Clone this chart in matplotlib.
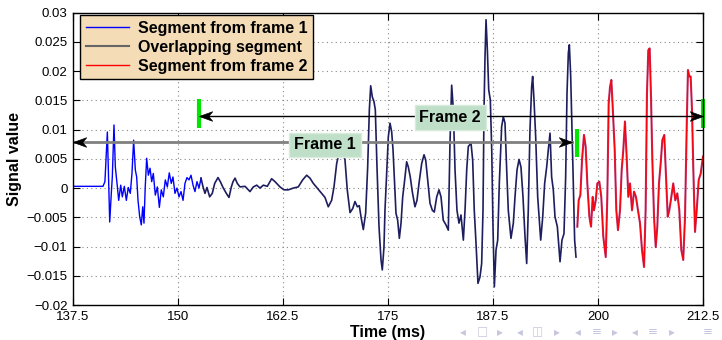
import matplotlib
matplotlib.use("Agg")
import matplotlib.pyplot as plt
import numpy as np
from matplotlib.path import Path
from matplotlib.lines import Line2D

plt.rcParams['font.family'] = ['Liberation Sans', 'DejaVu Sans']

# ---- data ----
time_ms = [137.5, 141.07, 141.3, 141.59, 141.7, 141.87, 142.06, 142.18, 142.38, 142.54,
           142.74, 142.94, 143.18, 143.37, 143.61, 143.85, 144.08, 144.32, 144.52, 144.72,
           144.92, 145.08, 145.24, 145.44, 145.63, 145.8, 145.95, 146.1, 146.27, 146.47,
           146.67, 146.87, 147.06, 147.3, 147.54, 147.78, 148.01, 148.25, 148.49, 148.73,
           148.96, 149.2, 149.4, 149.64, 149.88, 150.12, 150.36, 150.6, 150.83, 151.07,
           151.31, 151.55, 151.79, 152.02, 152.26, 152.5, 152.74,
           152.98, 153.21, 153.45, 153.77, 154.08, 154.37, 154.76, 155.04, 155.36, 155.75,
           156.07, 156.35, 156.55, 156.79, 157.06, 157.38, 157.98, 158.57, 158.97, 159.37,
           159.76, 160.16, 160.63, 161.15, 161.55, 162.14, 162.62, 163.13, 163.73, 164.32,
           164.84, 165.32, 165.71, 166.11, 166.58, 167.1, 167.5, 167.89, 168.29, 168.57,
           168.89, 169.2, 169.52, 169.88, 170.15, 170.48, 170.8, 171.07, 171.35, 171.58,
           171.82, 172.06, 172.34, 172.58, 172.78, 172.94, 173.13, 173.33, 173.49, 173.69,
           173.93, 174.17, 174.32, 174.52, 174.64, 174.84, 175.04, 175.24, 175.44, 175.6,
           175.75, 175.95, 176.15, 176.35, 176.55, 176.75, 176.94, 177.22, 177.42, 177.65,
           177.89, 178.21, 178.45, 178.69, 179.01, 179.29, 179.49, 179.73, 180.0, 180.28,
           180.51, 180.8, 181.07, 181.31, 181.58, 181.9, 182.18, 182.38, 182.58, 182.78,
           182.98, 183.21, 183.45, 183.69, 183.97, 184.17, 184.37, 184.56, 184.88, 185.08,
           185.27, 185.48, 185.71, 185.95, 186.15, 186.31, 186.43, 186.55, 186.67, 186.83,
           186.99, 187.18, 187.35, 187.5, 187.66, 187.86, 188.06, 188.25, 188.53, 188.73,
           188.93, 189.13, 189.32, 189.64, 189.92, 190.12, 190.36, 190.6, 190.83, 191.07,
           191.31, 191.51, 191.7, 191.9, 192.1, 192.22, 192.38, 192.58, 192.82, 192.98,
           193.18, 193.42, 193.65, 193.89, 194.08, 194.29, 194.48, 194.68, 194.88, 195.16,
           195.48, 195.71, 195.95, 196.15, 196.31, 196.47, 196.59, 196.75, 196.9, 197.06,
           197.22, 197.38,
           197.54, 197.7, 197.9, 198.1, 198.33, 198.53, 198.73, 198.97, 199.17, 199.37,
           199.52, 199.73, 199.92, 200.16, 200.39, 200.63, 200.92, 201.11, 201.27, 201.43,
           201.59, 201.75, 201.99, 202.18, 202.38, 202.62, 202.82, 203.01, 203.21, 203.41,
           203.61, 203.81, 204.05, 204.29, 204.52, 204.76, 205.0, 205.24, 205.48, 205.67,
           205.83, 205.99, 206.15, 206.31, 206.47, 206.67, 206.87, 207.06, 207.26, 207.46,
           207.66, 207.89, 208.1, 208.3, 208.49, 208.73, 208.96, 209.2, 209.44, 209.68,
           209.92, 210.15, 210.36, 210.56, 210.71, 210.87, 211.03, 211.19, 211.35, 211.55,
           211.75, 211.99, 212.23, 212.5]

signal = [0.0003, 0.0003, 0.0011, 0.0096, 0.0036, -0.0058, -0.0009, 0.0019, 0.0108, 0.0036,
          0.0008, -0.0021, 0.0005, -0.0015, 0.0003, -0.0021, 0.0001, -0.0009, 0.0025, 0.0082,
          0.0031, 0.0019, -0.0021, -0.0049, -0.0063, -0.0032, -0.0060, 0.0002, 0.0051, 0.0022,
          0.0034, 0.0011, 0.0025, -0.0012, 0.0002, -0.0033, -0.0003, -0.0015, 0.0014, 0.0002,
          0.0026, 0.0008, 0.0019, -0.0009, 0.0000, -0.0015, -0.0006, -0.0021, 0.0008, 0.0018,
          0.0014, 0.0022, 0.0005, -0.0006, 0.0011, 0.0000, 0.0017,
          0.0002, -0.0009, 0.0001, -0.0015, -0.0009, 0.0008, 0.0018, 0.0011, 0.0001, -0.0009,
          -0.0016, 0.0002, 0.0011, 0.0017, 0.0008, 0.0002, 0.0003, -0.0006, 0.0002, 0.0005,
          0.0000, 0.0005, 0.0003, 0.0016, 0.0011, 0.0002, -0.0003, -0.0003, 0.0000, 0.0002,
          0.0014, 0.0022, 0.0017, 0.0008, 0.0000, -0.0009, -0.0016, -0.0032, -0.0021, 0.0002,
          0.0042, 0.0062, 0.0066, 0.0048, -0.0003, -0.0042, -0.0035, -0.0023, -0.0032, -0.0030,
          -0.0052, -0.0071, -0.0043, 0.0036, 0.0134, 0.0175, 0.0156, 0.0148, 0.0134, 0.0036,
          -0.0066, -0.0123, -0.0140, -0.0101, -0.0038, 0.0025, 0.0088, 0.0111, 0.0096, 0.0065,
          0.0019, -0.0043, -0.0055, -0.0086, -0.0060, -0.0015, 0.0008, 0.0045, 0.0036, 0.0019,
          -0.0006, -0.0032, -0.0021, 0.0008, 0.0042, 0.0057, 0.0048, 0.0014, -0.0026, -0.0038,
          -0.0041, -0.0015, -0.0003, -0.0015, -0.0055, -0.0063, -0.0072, 0.0077, 0.0176, 0.0134,
          0.0031, -0.0038, -0.0060, -0.0046, -0.0089, -0.0038, 0.0031, 0.0071, 0.0077, 0.0048,
          -0.0038, -0.0095, -0.0163, -0.0152, -0.0129, -0.0038, 0.0134, 0.0225, 0.0288, 0.0236,
          0.0168, 0.0151, 0.0065, -0.0066, -0.0169, -0.0106, -0.0089, 0.0008, 0.0105, 0.0122,
          0.0111, 0.0031, -0.0038, -0.0086, -0.0060, -0.0015, 0.0031, 0.0049, 0.0036, -0.0015,
          -0.0083, -0.0129, -0.0038, 0.0099, 0.0173, 0.0191, 0.0151, 0.0088, -0.0015, -0.0049,
          -0.0089, -0.0049, 0.0008, 0.0036, 0.0065, 0.0094, 0.0019, -0.0003, -0.0049, -0.0066,
          -0.0126, -0.0089, -0.0078, 0.0019, 0.0162, 0.0231, 0.0245, 0.0191, 0.0105, 0.0008,
          -0.0089, -0.0118,
          -0.0066, -0.0021, -0.0012, 0.0048, 0.0091, 0.0071, 0.0008, -0.0049, -0.0066, -0.0015,
          -0.0038, -0.0021, 0.0008, 0.0011, -0.0015, -0.0083, -0.0118, -0.0015, 0.0145, 0.0173,
          0.0185, 0.0139, 0.0065, -0.0038, -0.0072, -0.0038, 0.0031, 0.0065, 0.0114, 0.0054,
          -0.0015, 0.0008, -0.0038, -0.0006, -0.0015, -0.0038, -0.0060, -0.0106, -0.0135, -0.0038,
          0.0162, 0.0236, 0.0239, 0.0156, 0.0048, -0.0049, -0.0101, -0.0066, 0.0008, 0.0042,
          0.0082, 0.0091, 0.0019, -0.0049, -0.0038, -0.0015, 0.0008, -0.0021, -0.0009, -0.0038,
          -0.0106, -0.0123, -0.0049, 0.0105, 0.0202, 0.0191, 0.0191, 0.0134, 0.0031, -0.0075,
          -0.0038, 0.0014, 0.0025, 0.0054]

frame2_start = 152.6
frame1_end = 197.4

series_labels = ["Segment from frame 1", "Overlapping segment", "Segment from frame 2"]
frame_labels = ["Frame 1", "Frame 2"]
frame1_span = [137.5, 196.9]
frame1_level = 0.0079
frame2_span = [152.5, 212.5]
frame2_level = 0.0124
marker_f1 = [197.5, 0.0053, 0.0101]
marker_f2 = [[152.5, 0.0103, 0.0152], [212.5, 0.0103, 0.0152]]

xticks = [137.5, 150, 162.5, 175, 187.5, 200, 212.5]
xtick_labels = ["137.5", "150", "162.5", "175", "187.5", "200", "212.5"]
yticks = [-0.02, -0.015, -0.01, -0.005, 0, 0.005, 0.01, 0.015, 0.02, 0.025, 0.03]
ytick_labels = ["\u22120.02", "\u22120.015", "\u22120.01", "\u22120.005", "0", "0.005",
                "0.01", "0.015", "0.02", "0.025", "0.03"]

# ---- plot ----
t = np.array(time_ms)
s = np.array(signal)

fig = plt.figure(figsize=(7.22, 3.4), dpi=100)
ax = fig.add_axes([73 / 722, 1 - 305 / 340, 630 / 722, 292.3 / 340])

m1 = t <= frame2_start + 0.2
m2 = (t >= frame2_start - 0.05) & (t <= frame1_end + 0.01)
m3 = t >= frame1_end - 0.01

ax.plot(t[m1], s[m1], color="#0000ff", lw=1.0, zorder=3)
ax.plot(t[m2], s[m2], color="#1e1e5e", lw=1.2, zorder=3)
ax.plot(t[m3], s[m3], color="#c0306a", lw=1.5, zorder=3)
ax.plot(t[m3], s[m3], color="#ff0000", lw=0.7, zorder=3)

# frame arrows
ax.plot(frame1_span, [frame1_level] * 2, color="#808080", lw=2.0, zorder=4)
ax.plot(frame2_span, [frame2_level] * 2, color="black", lw=1.0, zorder=4)

head_r = Path([(0, 0), (-1, 0.36), (-0.7, 0), (-1, -0.36), (0, 0)],
              [Path.MOVETO, Path.LINETO, Path.LINETO, Path.LINETO, Path.CLOSEPOLY])
head_l = Path([(0, 0), (1, 0.36), (0.7, 0), (1, -0.36), (0, 0)],
              [Path.MOVETO, Path.LINETO, Path.LINETO, Path.LINETO, Path.CLOSEPOLY])
for span, lvl in [(frame1_span, frame1_level), (frame2_span, frame2_level)]:
    ax.plot([span[0]], [lvl], marker=head_l, ms=19, color="black", mew=0.5,
            zorder=6, clip_on=False)
    ax.plot([span[1]], [lvl], marker=head_r, ms=19, color="black", mew=0.5,
            zorder=6, clip_on=False)

# green markers
ax.plot([marker_f1[0]] * 2, marker_f1[1:], color="#00e600", lw=3, zorder=5,
        solid_capstyle="butt")
for mk in marker_f2:
    ax.plot([mk[0]] * 2, mk[1:], color="#00e600", lw=3, zorder=5,
            solid_capstyle="butt", clip_on=False)

box = dict(boxstyle="square,pad=0.3", facecolor="#bfdfc8", edgecolor="#d8ecdc", lw=1)
ax.text(167.5, 0.0074, frame_labels[0], ha="center", va="center", fontsize=11.5,
        fontweight="bold", bbox=box, zorder=7)
ax.text(182.4, 0.0121, frame_labels[1], ha="center", va="center", fontsize=11.5,
        fontweight="bold", bbox=box, zorder=7)

ax.set_xlim(137.5, 212.5)
ax.set_ylim(-0.02, 0.03)
ax.set_xticks(xticks)
ax.set_xticklabels(xtick_labels)
ax.set_yticks(yticks)
ax.set_yticklabels(ytick_labels)
ax.tick_params(direction="in", top=True, right=True, length=5, width=0.8,
               labelsize=9.5, pad=4)
ax.grid(True, color="#888888", linestyle=(0, (1, 3)), lw=0.8)
for sp in ax.spines.values():
    sp.set_linewidth(1.0)
    sp.set_zorder(8)

ax.set_xlabel("Time (ms)", fontsize=11.5, fontweight="bold", labelpad=2)
ax.set_ylabel("Signal value", fontsize=11.5, fontweight="bold", labelpad=3)

handles = [Line2D([], [], color="#0000ff", lw=1.0),
           Line2D([], [], color="#666666", lw=1.5),
           Line2D([], [], color="#ff0000", lw=1.0)]
leg = ax.legend(handles, series_labels, loc="upper left",
                bbox_to_anchor=(0.011, 0.992), borderaxespad=0, fancybox=False,
                framealpha=1, facecolor="#f3dcb6", edgecolor="black",
                prop=dict(size=11.5, weight="bold"), handlelength=2.7,
                labelspacing=0.25, borderpad=0.35, handletextpad=0.6)
leg.get_frame().set_linewidth(1.0)
leg.set_zorder(10)

# beamer navigation symbols
nav = ["\u25c2", "\u25a1", "\u25b8", "\u25c2", "\u25eb", "\u25b8", "\u25c2", "\u2261",
       "\u25b8", "\u25c2", "\u2261", "\u25b8", "\u2261"]
nav_x = [463, 482, 500, 520, 537, 557, 578, 597, 615, 635, 653, 672, 708]
for sym, px in zip(nav, nav_x):
    fig.text(px / 722, 1 - 332 / 340, sym, ha="center", va="center", fontsize=8.5,
             color="#c6c6dc", family="DejaVu Sans")

fig.savefig("out.png", dpi=100)
